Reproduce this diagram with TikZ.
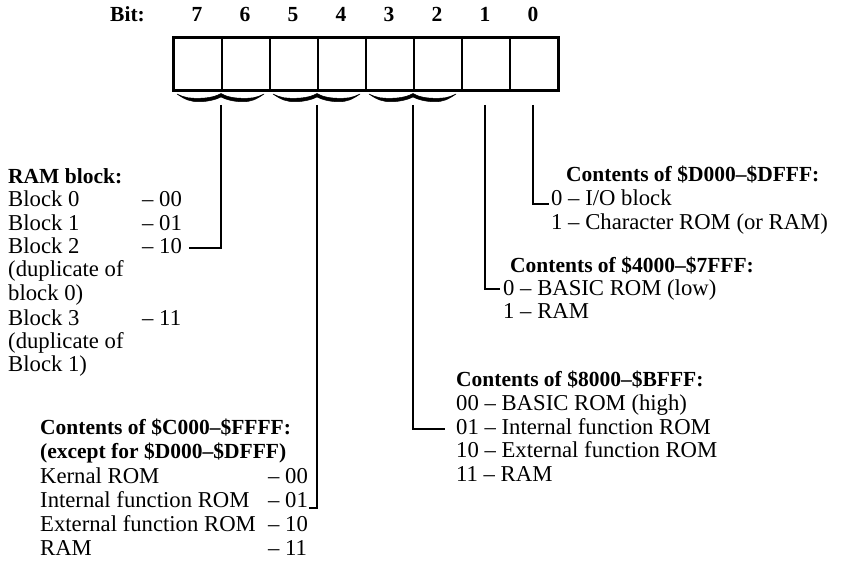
\documentclass[tikz,border=0pt]{standalone}
\usepackage{fontspec}
\setmainfont{Liberation Serif}
\usetikzlibrary{calc}
\begin{document}
\begin{tikzpicture}[x=1pt,y=-1pt,
  txt/.style={anchor=base west, inner sep=0pt, font=\fontsize{22.7}{23}\selectfont},
  hd/.style={anchor=base west, inner sep=0pt, font=\fontsize{21.5}{23}\selectfont\bfseries},
  bitnum/.style={anchor=base, inner sep=0pt, font=\fontsize{21.5}{23}\selectfont\bfseries},
  cellbox/.style={draw, line width=1.6pt, minimum width=48pt, minimum height=52pt, inner sep=0pt, anchor=north west},
  conn/.style={line width=1.8pt},
  bracemark/.style={fill=black, draw=black, line width=0.5pt, line join=round}]
\useasboundingbox (0,0) rectangle (842,564);
% register cells
\foreach \b [count=\i from 0] in {7,6,5,4,3,2,1,0} {
  \node[cellbox] (cell\b) at ({173+48*\i},37) {};
  \node[bitnum] (num\b) at ({197+48*\i},22) {\b};
}
\draw[line width=2.4pt] (cell7.north west) rectangle (cell0.south east);
\node[hd] (bitlbl) at (110,22) {Bit:};
% braces (wavy, under each pair of bits): left end, centre, right end
\foreach \xl/\xc/\xr in {177/221/264, 273/317/360, 369/413/456} {
  \pgfmathsetmacro{\ml}{(\xl+\xc)/2}
  \pgfmathsetmacro{\mr}{(\xc+\xr)/2}
  \path[bracemark]
    (\xl,94) .. controls (\xl+9,98.3) and (\ml-9,98.3) .. (\ml,98.3)
             .. controls (\ml+10,98.3) and (\xc-4,96) .. (\xc,93.5)
             .. controls (\xc+4,96) and (\mr-10,98.3) .. (\mr,98.3)
             .. controls (\mr+9,98.3) and (\xr-9,98.3) .. (\xr,94)
             .. controls (\xr-8,99.5) and (\mr+9,101.7) .. (\mr,101.7)
             .. controls (\mr-10,101.7) and (\xc+4,99) .. (\xc,97)
             .. controls (\xc-4,99) and (\ml+10,101.7) .. (\ml,101.7)
             .. controls (\ml-9,101.7) and (\xl+8,99.5) .. (\xl,94) -- cycle;
}
% connector start points
\coordinate (s76) at (221,105);
\coordinate (s54) at (317,105);
\coordinate (s32) at (413,105);
\coordinate (s1) at (485,105);
\coordinate (s0) at (533,105);
% RAM block text
\node[hd] (ramhd) at (8,183) {RAM block:};
\node[txt] (blk0) at (8,206.5) {\makebox[134pt][l]{Block 0}– 00};
\node[txt] (blk1) at (8,230) {\makebox[134pt][l]{Block 1}– 01};
\node[txt] (blk2) at (8,253) {\makebox[134pt][l]{Block 2}– 10};
\node[txt] (dup0a) at (8,276.5) {(duplicate of};
\node[txt] (dup0b) at (8,300) {block 0)};
\node[txt] (blk3) at (8,325) {\makebox[134pt][l]{Block 3}– 11};
\node[txt] (dup1a) at (8,348) {(duplicate of};
\node[txt] (dup1b) at (8,371) {Block 1)};
% C000 text
\node[hd] (chd1) at (40,434) {Contents of \$C000–\$FFFF:};
\node[hd] (chd2) at (40,458) {(except for \$D000–\$DFFF)};
\node[txt] (c00) at (40,483) {\makebox[228pt][l]{Kernal ROM}– 00};
\node[txt] (c01) at (40,507) {\makebox[228pt][l]{Internal function ROM}– 01};
\node[txt] (c10) at (40,531) {\makebox[228pt][l]{External function ROM}– 10};
\node[txt] (c11) at (40,555) {\makebox[228pt][l]{RAM}– 11};
% D000 text
\node[hd] (dhd) at (566,182) {Contents of \$D000–\$DFFF:};
\node[txt] (d0) at (551,205) {0 – I/O block};
\node[txt] (d1) at (551,229) {1 – Character ROM (or RAM)};
% 4000 text
\node[hd] (fhd) at (510,272) {Contents of \$4000–\$7FFF:};
\node[txt] (f0) at (503,295) {0 – BASIC ROM (low)};
\node[txt] (f1) at (503,318) {1 – RAM};
% 8000 text
\node[hd] (ehd) at (456,386) {Contents of \$8000–\$BFFF:};
\node[txt] (e00) at (456,410) {00 – BASIC ROM (high)};
\node[txt] (e01) at (456,434) {01 – Internal function ROM};
\node[txt] (e10) at (456,457) {10 – External function ROM};
\node[txt] (e11) at (456,481) {11 – RAM};
% connector end points
\coordinate (t76) at (189,248);
\coordinate (t54) at (309,508);
\coordinate (t32) at (445,429);
\coordinate (t1) at (500,289);
\coordinate (t0) at (549,204);
\draw[conn] (s76) |- (t76);
\draw[conn] (s54) |- (t54);
\draw[conn] (s32) |- (t32);
\draw[conn] (s1) |- (t1);
\draw[conn] (s0) |- (t0);
\end{tikzpicture}
\end{document}
